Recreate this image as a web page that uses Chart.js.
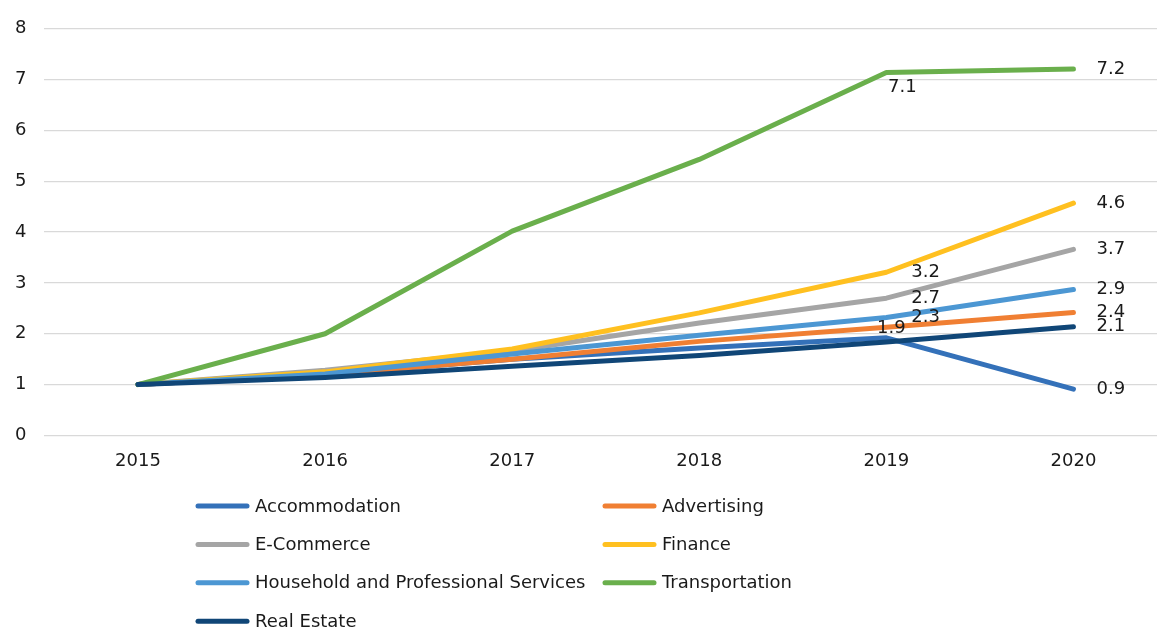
<!DOCTYPE html>
<html>
<head>
<meta charset="utf-8">
<script src="https://cdn.jsdelivr.net/npm/chart.js@4"></script>
<style>
  html, body { margin: 0; padding: 0; background: #ffffff; overflow: hidden; }
  #wrap { position: absolute; left: 0; top: 0; width: 1167px; height: 628px; }
</style>
</head>
<body>
<div id="wrap"><canvas id="c"></canvas></div>
<script>
// ---- data ----
const years = ['2015', '2016', '2017', '2018', '2019', '2020'];
const seriesNames = ['Accommodation', 'Advertising', 'E-Commerce', 'Finance',
  'Household and Professional Services', 'Transportation', 'Real Estate'];
const accommodation  = [1, 1.20, 1.50, 1.72, 1.92, 0.91];
const advertising    = [1, 1.20, 1.50, 1.85, 2.13, 2.42];
const eCommerce      = [1, 1.28, 1.66, 2.21, 2.70, 3.66];
const finance        = [1, 1.25, 1.70, 2.41, 3.21, 4.57];
const household      = [1, 1.21, 1.60, 1.97, 2.32, 2.87];
const transportation = [1, 2.00, 4.02, 5.43, 7.14, 7.21];
const realEstate     = [1, 1.14, 1.36, 1.57, 1.84, 2.14];
const yTicks = [0, 1, 2, 3, 4, 5, 6, 7, 8];

// ---- style ----
const colors = ['#3471B9', '#F07F33', '#A5A5A5', '#FFC020', '#4C97D3', '#6AAF4C', '#104677'];
const FONT = '"DejaVu Sans", Verdana, sans-serif';
const TEXT = '#1a1a1a';
// which data labels are shown: [series, point, mode, dx, dy]
const labelSpecs = [
  [5, 4, 'c', 16, 15], [5, 5, 'r', 23, 0],
  [3, 4, 'r', 25, 0], [3, 5, 'r', 23, 0],
  [2, 4, 'r', 25, 0], [2, 5, 'r', 23, 0],
  [4, 4, 'r', 25, 0], [4, 5, 'r', 23, 0],
  [0, 4, 'c', 5, -9], [0, 5, 'r', 23, 0],
  [1, 5, 'r', 23, 0], [6, 5, 'r', 23, 0]
];

const allValues = [accommodation, advertising, eCommerce, finance, household, transportation, realEstate];
const datasets = allValues.map((vals, i) => ({
  label: seriesNames[i],
  data: vals,
  borderColor: colors[i],
  backgroundColor: colors[i],
  borderWidth: 5,
  borderCapStyle: 'round',
  borderJoinStyle: 'round',
  pointRadius: 0,
  tension: 0,
  fill: false,
  order: allValues.length - i
}));

const dataLabelPlugin = {
  id: 'dataLabels',
  afterDatasetsDraw(chart) {
    const ctx = chart.ctx;
    ctx.save();
    ctx.font = '18px ' + FONT;
    ctx.fillStyle = TEXT;
    ctx.textBaseline = 'middle';
    labelSpecs.forEach(([s, p, mode, dx, dy]) => {
      const el = chart.getDatasetMeta(s).data[p];
      const v = chart.data.datasets[s].data[p];
      ctx.textAlign = mode === 'r' ? 'left' : 'center';
      ctx.fillText(v.toFixed(1), el.x + dx, el.y + dy);
    });
    ctx.restore();
  }
};

const gridLegendPlugin = {
  id: 'gridLegend',
  afterDraw(chart) {
    const ctx = chart.ctx;
    const colX = [196, 603];
    const rowY0 = 506, rowH = 38.4, lineLen = 53;
    ctx.save();
    ctx.font = '18px ' + FONT;
    ctx.textBaseline = 'middle';
    ctx.textAlign = 'left';
    chart.data.datasets.forEach((ds, i) => {
      const x = colX[i % 2];
      const y = rowY0 + Math.floor(i / 2) * rowH;
      ctx.strokeStyle = ds.borderColor;
      ctx.lineWidth = 5;
      ctx.lineCap = 'round';
      ctx.beginPath();
      ctx.moveTo(x + 2, y);
      ctx.lineTo(x + lineLen - 2, y);
      ctx.stroke();
      ctx.fillStyle = TEXT;
      ctx.fillText(ds.label, x + lineLen + 6, y + 1);
    });
    ctx.restore();
  }
};

new Chart(document.getElementById('c'), {
  type: 'line',
  data: { labels: years, datasets },
  options: {
    responsive: true,
    maintainAspectRatio: false,
    animation: false,
    layout: { padding: { top: 24, left: -3, right: 0, bottom: 141 } },
    plugins: {
      legend: { display: false },
      tooltip: { enabled: false }
    },
    scales: {
      x: {
        type: 'category',
        offset: true,
        grid: { display: false, drawTicks: false },
        border: { display: false },
        ticks: { color: TEXT, font: { family: FONT, size: 18 }, padding: 15, maxRotation: 0 }
      },
      y: {
        min: 0,
        max: 8,
        afterBuildTicks(scale) { scale.ticks = yTicks.map(v => ({ value: v })); },
        grid: { color: '#d9d9d9', lineWidth: 1.3, drawTicks: false },
        border: { display: false },
        ticks: { color: TEXT, font: { family: FONT, size: 18 }, padding: 18 }
      }
    }
  },
  plugins: [dataLabelPlugin, gridLegendPlugin]
});
</script>
</body>
</html>
